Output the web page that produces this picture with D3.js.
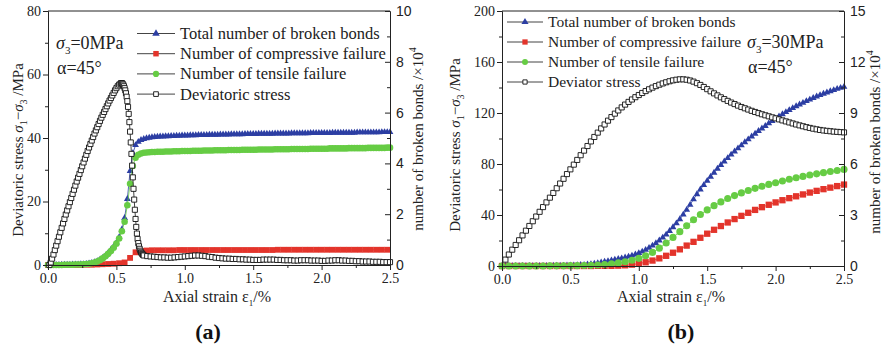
<!DOCTYPE html>
<html>
<head>
<meta charset="utf-8">
<script src="https://cdn.jsdelivr.net/npm/d3@7"></script>
<style>
  body { margin: 0; background: #fff; }
  svg { display: block; }
</style>
</head>
<body>
<svg id="chart" width="890" height="349"></svg>
<script>
// ---------- Panel (a): sigma3 = 0 MPa ----------
// Deviatoric stress (MPa) sampled along axial strain (%)
const strainStressA = [
  0.01,0.02,0.03,0.04,0.05,0.06,0.07,0.08,0.09,0.10,0.11,0.12,0.13,0.14,0.15,0.16,0.17,0.18,0.19,0.20,
  0.21,0.22,0.23,0.24,0.25,0.26,0.27,0.28,0.29,0.30,0.31,0.32,0.33,0.34,0.35,0.36,0.37,0.38,0.39,0.40,
  0.41,0.42,0.43,0.44,0.45,0.46,0.47,0.48,0.49,0.50,0.51,0.52,0.53,
  0.535,0.54,0.545,0.55,0.555,0.56,0.565,0.57,0.575,0.58,0.585,0.59,0.595,0.60,0.605,0.61,0.615,0.62,
  0.625,0.63,0.635,0.64,0.645,0.65,0.655,0.66,0.665,0.67,0.675,0.68,0.685,0.69,0.695,0.70,
  0.725,0.75,0.775,0.80,0.825,0.85,0.875,0.90,0.925,0.95,0.975,1.00,1.025,1.05,1.075,1.10,1.125,1.15,
  1.175,1.20,1.225,1.25,1.275,1.30,1.325,1.35,1.375,1.40,1.425,1.45,1.475,1.50,1.525,1.55,1.575,1.60,
  1.625,1.65,1.675,1.70,1.725,1.75,1.775,1.80,1.825,1.85,1.875,1.90,1.925,1.95,1.975,2.00,2.025,2.05,
  2.075,2.10,2.125,2.15,2.175,2.20,2.225,2.25,2.275,2.30,2.325,2.35,2.375,2.40,2.425,2.45,2.475,2.50
];
const stressA = [
  0.0,0.8,2.0,3.3,4.7,6.1,7.5,8.9,10.3,11.7,13.1,14.5,15.9,17.2,18.5,19.8,21.1,22.4,23.7,25.0,
  26.3,27.5,28.7,29.9,31.1,32.3,33.5,34.7,35.9,37.0,38.1,39.2,40.3,41.4,42.4,43.4,44.4,45.4,46.4,47.3,
  48.2,49.1,50.0,50.9,51.8,52.6,53.4,54.2,55.0,55.7,56.3,56.8,57.1,
  57.3,57.3,57.1,56.8,56.3,55.7,55.0,54.1,53.0,51.6,49.8,47.6,45.0,42.0,38.6,35.0,31.3,27.6,
  24.0,20.6,17.4,14.5,12.0,9.9,8.2,6.9,5.9,5.1,4.5,4.0,3.7,3.4,3.2,3.0,
  2.8,2.7,2.6,2.5,2.4,2.4,2.3,2.3,2.4,2.5,2.6,2.7,2.8,2.9,3.0,3.0,2.9,2.8,
  2.6,2.5,2.3,2.2,2.1,2.0,2.0,1.9,1.9,1.8,1.8,1.7,1.7,1.6,1.6,1.6,1.7,1.7,
  1.7,1.7,1.6,1.6,1.5,1.5,1.5,1.4,1.4,1.5,1.5,1.5,1.4,1.4,1.4,1.3,1.3,1.4,
  1.4,1.5,1.5,1.4,1.4,1.3,1.3,1.2,1.2,1.1,1.1,1.1,1.0,1.0,1.0,0.9,0.9,0.9
];
// Broken-bond counts (x10^4) on a 0.02 % strain grid
const strainBondsA = [
  0,0.02,0.04,0.06,0.08,0.1,0.12,0.14,0.16,0.18,0.2,0.22,0.24,0.26,0.28,0.3,0.32,0.34,0.36,0.38,
  0.4,0.42,0.44,0.46,0.48,0.5,0.52,0.54,0.56,0.58,0.6,0.62,0.64,0.66,0.68,0.7,0.72,0.74,0.76,0.78,
  0.8,0.82,0.84,0.86,0.88,0.9,0.92,0.94,0.96,0.98,1,1.02,1.04,1.06,1.08,1.1,1.12,1.14,1.16,1.18,
  1.2,1.22,1.24,1.26,1.28,1.3,1.32,1.34,1.36,1.38,1.4,1.42,1.44,1.46,1.48,1.5,1.52,1.54,1.56,1.58,
  1.6,1.62,1.64,1.66,1.68,1.7,1.72,1.74,1.76,1.78,1.8,1.82,1.84,1.86,1.88,1.9,1.92,1.94,1.96,1.98,
  2,2.02,2.04,2.06,2.08,2.1,2.12,2.14,2.16,2.18,2.2,2.22,2.24,2.26,2.28,2.3,2.32,2.34,2.36,2.38,
  2.4,2.42,2.44,2.46,2.48,2.5
];
const totalA = [
  0,0,0,0,0,0.01,0.01,0.01,0.01,0.02,0.02,0.02,0.03,0.03,0.04,0.06,0.08,0.11,0.15,0.21,
  0.28,0.37,0.48,0.60,0.73,0.88,1.10,1.40,1.85,2.60,3.70,4.40,4.72,4.85,4.92,4.96,4.99,5.01,5.03,5.04,
  5.05,5.06,5.06,5.07,5.07,5.08,5.08,5.09,5.09,5.10,5.10,5.10,5.11,5.11,5.11,5.12,5.12,5.12,5.12,5.13,
  5.13,5.13,5.13,5.14,5.14,5.14,5.14,5.15,5.15,5.15,5.15,5.15,5.16,5.16,5.16,5.16,5.16,5.17,5.17,5.17,
  5.17,5.17,5.17,5.18,5.18,5.18,5.18,5.18,5.18,5.19,5.19,5.19,5.19,5.19,5.19,5.19,5.20,5.20,5.20,5.20,
  5.20,5.20,5.20,5.20,5.21,5.21,5.21,5.21,5.21,5.21,5.21,5.21,5.21,5.22,5.22,5.22,5.22,5.22,5.22,5.22,
  5.22,5.22,5.23,5.23,5.23,5.23
];
const tensileA = [
  0,0,0,0,0,0,0.01,0.01,0.01,0.01,0.02,0.02,0.02,0.03,0.04,0.05,0.07,0.10,0.14,0.19,
  0.26,0.34,0.44,0.55,0.68,0.84,1.04,1.33,1.70,2.35,3.20,3.90,4.22,4.34,4.39,4.42,4.43,4.44,4.45,4.45,
  4.46,4.46,4.46,4.47,4.47,4.47,4.48,4.48,4.48,4.49,4.49,4.49,4.49,4.50,4.50,4.50,4.50,4.51,4.51,4.51,
  4.51,4.52,4.52,4.52,4.52,4.52,4.53,4.53,4.53,4.53,4.53,4.54,4.54,4.54,4.54,4.54,4.54,4.55,4.55,4.55,
  4.55,4.55,4.55,4.56,4.56,4.56,4.56,4.56,4.56,4.57,4.57,4.57,4.57,4.57,4.57,4.57,4.58,4.58,4.58,4.58,
  4.58,4.58,4.58,4.59,4.59,4.59,4.59,4.59,4.59,4.59,4.60,4.60,4.60,4.60,4.60,4.60,4.60,4.61,4.61,4.61,
  4.61,4.61,4.61,4.61,4.62,4.62
];
const strainCompA = [
  0,0.04,0.08,0.12,0.16,0.2,0.24,0.28,0.32,0.36,0.4,0.44,0.48,0.52,0.56,0.6,0.64,0.68,0.72,0.76,
  0.8,0.84,0.88,0.92,0.96,1,1.04,1.08,1.12,1.16,1.2,1.24,1.28,1.32,1.36,1.4,1.44,1.48,1.52,1.56,
  1.6,1.64,1.68,1.72,1.76,1.8,1.84,1.88,1.92,1.96,2,2.04,2.08,2.12,2.16,2.2,2.24,2.28,2.32,2.36,
  2.4,2.44,2.48
];
const compressiveA = [
  0,0,0,0,0,0,0,0.01,0.01,0.02,0.03,0.04,0.05,0.07,0.10,0.28,0.50,0.55,0.57,0.58,
  0.58,0.58,0.58,0.58,0.59,0.59,0.59,0.59,0.59,0.59,0.59,0.59,0.59,0.59,0.59,0.59,0.59,0.59,0.59,0.59,
  0.59,0.59,0.60,0.60,0.60,0.60,0.60,0.60,0.60,0.60,0.60,0.60,0.60,0.60,0.60,0.60,0.60,0.60,0.60,0.60,
  0.60,0.60,0.60
];

// ---------- Panel (b): sigma3 = 30 MPa ----------
const strainB = [
  0,0.025,0.05,0.075,0.1,0.125,0.15,0.175,0.2,0.225,0.25,0.275,0.3,0.325,0.35,0.375,0.4,0.425,0.45,0.475,
  0.5,0.525,0.55,0.575,0.6,0.625,0.65,0.675,0.7,0.725,0.75,0.775,0.8,0.825,0.85,0.875,0.9,0.925,0.95,0.975,
  1,1.025,1.05,1.075,1.1,1.125,1.15,1.175,1.2,1.225,1.25,1.275,1.3,1.325,1.35,1.375,1.4,1.425,1.45,1.475,
  1.5,1.525,1.55,1.575,1.6,1.625,1.65,1.675,1.7,1.725,1.75,1.775,1.8,1.825,1.85,1.875,1.9,1.925,1.95,1.975,
  2,2.025,2.05,2.075,2.1,2.125,2.15,2.175,2.2,2.225,2.25,2.275,2.3,2.325,2.35,2.375,2.4,2.425,2.45,2.475,
  2.5
];
// stress starts at the second strain sample (0.025 %)
const stressB = [
  5.0,9.0,12.8,16.5,20.2,24.0,27.7,31.4,35.1,38.8,
  42.5,46.2,49.9,53.6,57.3,61.0,64.7,68.4,72.1,75.8,
  79.5,83.2,86.9,90.5,94.1,97.7,101.2,104.6,107.9,111.0,
  114.0,116.8,119.5,122.0,124.4,126.6,128.7,130.6,132.4,134.1,
  135.7,137.2,138.6,139.9,141.1,142.2,143.2,144.1,144.9,145.6,
  146.1,146.4,146.4,146.1,145.5,144.6,143.4,142.0,140.4,138.7,
  137.0,135.4,133.8,132.3,130.9,129.5,128.2,127.0,125.8,124.7,
  123.7,122.7,121.7,120.8,119.9,119.0,118.2,117.4,116.6,115.8,
  115.0,114.2,113.4,112.6,111.8,111.0,110.3,109.6,108.9,108.3,
  107.7,107.2,106.7,106.3,106.0,105.7,105.4,105.2,105.0,104.8
];
const totalB = [
  0,0,0,0,0,0,0,0,0,0.01,
  0.01,0.01,0.01,0.01,0.01,0.02,0.02,0.02,0.02,0.03,
  0.03,0.04,0.05,0.06,0.07,0.09,0.11,0.14,0.17,0.21,
  0.25,0.29,0.33,0.37,0.41,0.45,0.50,0.55,0.61,0.68,
  0.76,0.85,0.95,1.07,1.20,1.34,1.50,1.67,1.85,2.06,
  2.28,2.51,2.75,3.02,3.30,3.60,3.92,4.22,4.50,4.76,
  5.01,5.25,5.49,5.72,5.94,6.15,6.35,6.55,6.74,6.92,
  7.10,7.28,7.45,7.62,7.78,7.94,8.09,8.24,8.39,8.53,
  8.67,8.80,8.93,9.05,9.17,9.29,9.40,9.50,9.60,9.70,
  9.79,9.88,9.97,10.05,10.13,10.21,10.28,10.35,10.42,10.48,
  10.54
];
const strainCoarseB = [
  0,0.05,0.1,0.15,0.2,0.25,0.3,0.35,0.4,0.45,0.5,0.55,0.6,0.65,0.7,0.75,0.8,0.85,0.9,0.95,
  1,1.05,1.1,1.15,1.2,1.25,1.3,1.35,1.4,1.45,1.5,1.55,1.6,1.65,1.7,1.75,1.8,1.85,1.9,1.95,
  2,2.05,2.1,2.15,2.2,2.25,2.3,2.35,2.4,2.45,2.5
];
const tensileB = [
  0,0,0,0,0,0,0,0.01,0.01,0.01,
  0.02,0.02,0.03,0.04,0.06,0.09,0.13,0.18,0.25,0.34,
  0.45,0.60,0.80,1.05,1.35,1.68,2.02,2.37,2.72,3.03,
  3.30,3.55,3.77,3.97,4.14,4.30,4.44,4.57,4.69,4.80,
  4.90,5.00,5.10,5.19,5.27,5.35,5.42,5.49,5.56,5.62,
  5.68
];
const compressiveB = [
  0,0,0,0,0,0,0,0,0,0,
  0,0,0,0,0.01,0.01,0.01,0.02,0.04,0.08,
  0.14,0.22,0.32,0.45,0.60,0.78,0.98,1.20,1.42,1.66,
  1.90,2.13,2.35,2.56,2.76,2.95,3.13,3.30,3.46,3.60,
  3.74,3.87,3.99,4.10,4.21,4.32,4.42,4.52,4.61,4.70,
  4.79
];

// Axis ticks
const strainTicks = [0, 0.5, 1.0, 1.5, 2.0, 2.5];
const strainMinor = [0.25, 0.75, 1.25, 1.75, 2.25];
const stressTicksA = [0, 20, 40, 60, 80];
const stressMinorA = [10, 30, 50, 70];
const bondTicksA = [0, 2, 4, 6, 8, 10];
const bondMinorA = [1, 3, 5, 7, 9];
const stressTicksB = [0, 40, 80, 120, 160, 200];
const stressMinorB = [20, 60, 100, 140, 180];
const bondTicksB = [0, 3, 6, 9, 12, 15];
const bondMinorB = [1.5, 4.5, 7.5, 10.5, 13.5];

const legendA = ["Total number of broken bonds", "Number of compressive failure",
                 "Number of tensile failure", "Deviatoric stress"];
const legendB = ["Total number of broken bonds", "Number of compressive failure",
                 "Number of tensile failure", "Deviator stress"];

// ---------- drawing ----------
const SERIF = "'Liberation Serif','Times New Roman',serif";
const SANS = "'Liberation Sans',Arial,sans-serif";
const INK = "#222";
const COLORS = { total: "#2c3ea3", comp: "#e3342b", tens: "#66cc44", stress: "#111" };

const svg = d3.select("#chart");

function zip(xs, ys) {
  const n = Math.min(xs.length, ys.length);
  const out = [];
  for (let i = 0; i < n; i++) out.push([xs[i], ys[i]]);
  return out;
}

function markerPath(type, s) {
  if (type === "tri") return d3.symbol(d3.symbolTriangle, s.tri)();
  if (type === "sq") return d3.symbol(d3.symbolSquare, s.sq)();
  if (type === "circ") return d3.symbol(d3.symbolCircle, s.circ)();
  return d3.symbol(d3.symbolSquare, s.open)();
}

function styleMarker(sel, type, color) {
  if (type === "open") {
    sel.attr("fill", "#fff").attr("stroke", color).attr("stroke-width", 0.9);
  } else {
    sel.attr("fill", color).attr("stroke", "none");
  }
}

function drawPanel(p) {
  const g = svg.append("g");
  const x = d3.scaleLinear().domain([0, 2.5]).range([p.x0, p.x1]);
  const yL = d3.scaleLinear().domain([0, p.leftMax]).range([p.y1, p.y0]);
  const yR = d3.scaleLinear().domain([0, p.rightMax]).range([p.y1, p.y0]);

  // data series, back to front
  const series = [
    { pts: zip(p.bondStrain, p.total), y: yR, type: "tri", color: COLORS.total },
    { pts: zip(p.compStrain, p.comp), y: yR, type: "sq", color: COLORS.comp },
    { pts: zip(p.tensStrain, p.tens), y: yR, type: "circ", color: COLORS.tens },
    { pts: zip(p.stressStrain, p.stress), y: yL, type: "open", color: COLORS.stress }
  ];
  series.forEach(s => {
    const line = d3.line().x(d => x(d[0])).y(d => s.y(d[1]));
    g.append("path").attr("d", line(s.pts)).attr("fill", "none")
      .attr("stroke", s.color).attr("stroke-width", 0.8);
    const m = g.append("g").selectAll("path").data(s.pts).join("path")
      .attr("transform", d => `translate(${x(d[0])},${s.y(d[1])})`)
      .attr("d", markerPath(s.type, p.sizes));
    styleMarker(m, s.type, s.color);
  });

  // axes
  const axisStyle = sel => {
    sel.selectAll("path.domain").attr("stroke", INK).attr("stroke-width", 1);
    sel.selectAll(".tick line").attr("stroke", INK).attr("stroke-width", 1);
  };
  const bottom = g.append("g").attr("transform", `translate(0,${p.y1})`)
    .call(d3.axisBottom(x).tickValues(strainTicks).tickFormat(d3.format(".1f"))
      .tickSize(5).tickSizeOuter(0).tickPadding(3))
    .call(axisStyle);
  bottom.selectAll("text").attr("font-family", SERIF).attr("font-size", 14).attr("fill", INK);
  g.append("g").attr("transform", `translate(0,${p.y1})`)
    .call(d3.axisBottom(x).tickValues(strainMinor).tickFormat("").tickSize(3).tickSizeOuter(0))
    .call(axisStyle);

  const left = g.append("g").attr("transform", `translate(${p.x0},0)`)
    .call(d3.axisLeft(yL).tickValues(p.leftTicks).tickFormat(d3.format("d"))
      .tickSize(5).tickSizeOuter(0).tickPadding(2))
    .call(axisStyle);
  left.selectAll("text").attr("font-family", SERIF).attr("font-size", 14).attr("fill", INK);
  g.append("g").attr("transform", `translate(${p.x0},0)`)
    .call(d3.axisLeft(yL).tickValues(p.leftMinor).tickFormat("").tickSize(3).tickSizeOuter(0))
    .call(axisStyle);

  const right = g.append("g").attr("transform", `translate(${p.x1},0)`)
    .call(d3.axisRight(yR).tickValues(p.rightTicks).tickFormat(d3.format("d"))
      .tickSize(-5).tickSizeOuter(0).tickPadding(6))
    .call(axisStyle);
  right.selectAll("text").attr("font-family", SANS).attr("font-size", 14).attr("fill", INK);
  g.append("g").attr("transform", `translate(${p.x1},0)`)
    .call(d3.axisRight(yR).tickValues(p.rightMinor).tickFormat("").tickSize(-3).tickSizeOuter(0))
    .call(axisStyle);

  // top frame
  g.append("line").attr("x1", p.x0).attr("x2", p.x1).attr("y1", p.y0).attr("y2", p.y0)
    .attr("stroke", INK).attr("stroke-width", 1);

  // axis titles
  const lt = g.append("text")
    .attr("transform", `translate(${p.leftTitleX},${p.leftTitleY}) rotate(-90)`)
    .attr("text-anchor", "middle").attr("font-family", SERIF).attr("font-size", 15).attr("fill", INK);
  lt.append("tspan").text("Deviatoric stress ");
  lt.append("tspan").attr("font-style", "italic").text("σ");
  lt.append("tspan").attr("font-size", 10).attr("dy", 4).text("1");
  lt.append("tspan").attr("dy", -4).text("−");
  lt.append("tspan").attr("font-style", "italic").text("σ");
  lt.append("tspan").attr("font-size", 10).attr("dy", 4).text("3");
  lt.append("tspan").attr("dy", -4).text(" /MPa");

  const rt = g.append("text")
    .attr("transform", `translate(${p.rightTitleX},${p.rightTitleY}) rotate(-90)`)
    .attr("text-anchor", "middle").attr("font-family", SERIF).attr("font-size", 15).attr("fill", INK);
  rt.append("tspan").text("number of broken bonds /×10");
  rt.append("tspan").attr("font-size", 10).attr("dy", -7).text("4");

  const xt = g.append("text").attr("x", (p.x0 + p.x1) / 2 - 2).attr("y", 302)
    .attr("text-anchor", "middle").attr("font-family", SERIF).attr("font-size", 16).attr("fill", INK);
  xt.append("tspan").text("Axial strain ε");
  xt.append("tspan").attr("font-size", 9).attr("dy", 4).text("1");
  xt.append("tspan").attr("dy", -4).text("/%");

  // panel letter
  g.append("text").attr("x", p.letterX).attr("y", 339).attr("text-anchor", "middle")
    .attr("font-family", SERIF).attr("font-size", 22).attr("font-weight", "bold").attr("fill", "#111")
    .text(p.letter);

  // loading condition note
  const n1 = g.append("text").attr("x", p.noteX).attr("y", p.noteY).attr("font-family", SERIF)
    .attr("font-size", 18).attr("fill", INK);
  n1.append("tspan").attr("font-style", "italic").text("σ");
  n1.append("tspan").attr("font-size", 11).attr("dy", 5).text("3");
  n1.append("tspan").attr("dy", -5).text(p.confining);
  g.append("text").attr("x", p.noteX + 1).attr("y", p.noteY + 25).attr("font-family", SERIF)
    .attr("font-size", 18).attr("fill", INK).text("α=45°");

  // legend
  const types = ["tri", "sq", "circ", "open"];
  const cols = [COLORS.total, COLORS.comp, COLORS.tens, COLORS.stress];
  p.legend.forEach((label, i) => {
    const yy = p.legY + i * p.legStep;
    const lg = g.append("g");
    lg.append("line").attr("x1", p.legX).attr("x2", p.legX + p.legLen).attr("y1", yy).attr("y2", yy)
      .attr("stroke", "#444").attr("stroke-width", 1);
    const mk = lg.append("path").attr("transform", `translate(${p.legX + p.legLen / 2},${yy})`)
      .attr("d", markerPath(types[i], p.legSizes));
    styleMarker(mk, types[i], cols[i]);
    lg.append("text").attr("x", p.legX + p.legLen + 5).attr("y", yy).attr("dy", "0.33em")
      .attr("font-family", SERIF).attr("font-size", p.legFont).attr("fill", INK).text(label);
  });
}

drawPanel({
  x0: 48, x1: 390, y0: 11, y1: 265,
  leftMax: 80, rightMax: 10,
  leftTicks: stressTicksA, leftMinor: stressMinorA,
  rightTicks: bondTicksA, rightMinor: bondMinorA,
  stressStrain: strainStressA, stress: stressA,
  bondStrain: strainBondsA, total: totalA,
  tensStrain: strainBondsA, tens: tensileA,
  compStrain: strainCompA, comp: compressiveA,
  sizes: { tri: 20, sq: 34, circ: 34, open: 26 },
  legSizes: { tri: 24, sq: 30, circ: 30, open: 22 },
  leftTitleX: 23, leftTitleY: 150, rightTitleX: 423, rightTitleY: 139,
  letter: "(a)", letterX: 208,
  noteX: 56, noteY: 49, confining: "=0MPa",
  legend: legendA, legX: 137, legLen: 38, legY: 33.5, legStep: 20.2, legFont: 16.5
});

drawPanel({
  x0: 502, x1: 844, y0: 11, y1: 266,
  leftMax: 200, rightMax: 15,
  leftTicks: stressTicksB, leftMinor: stressMinorB,
  rightTicks: bondTicksB, rightMinor: bondMinorB,
  stressStrain: strainB.slice(1), stress: stressB,
  bondStrain: strainB, total: totalB,
  tensStrain: strainCoarseB, tens: tensileB,
  compStrain: strainCoarseB, comp: compressiveB,
  sizes: { tri: 20, sq: 40, circ: 40, open: 26 },
  legSizes: { tri: 22, sq: 28, circ: 28, open: 18 },
  leftTitleX: 460, leftTitleY: 145, rightTitleX: 880, rightTitleY: 142,
  letter: "(b)", letterX: 681,
  noteX: 747, noteY: 48, confining: "=30MPa",
  legend: legendB, legX: 507, legLen: 36, legY: 22, legStep: 20, legFont: 15.5
});
</script>
</body>
</html>
